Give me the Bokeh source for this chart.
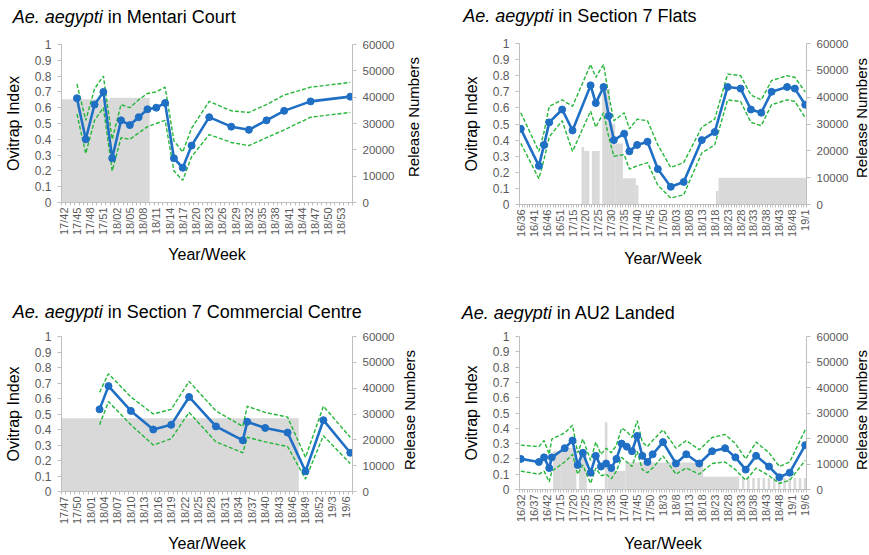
import math
from bokeh.plotting import figure
from bokeh.models import Range1d, LinearAxis, FixedTicker, NumeralTickFormatter, Div
from bokeh.layouts import column, row
from bokeh.embed import file_html
from bokeh.resources import INLINE

# ---------------- data ----------------
species = "Ae. aegypti"
right_title = "Release Numbers"

# Panel 1: Mentari Court
mc_place = "in Mentari Court"
mc_n_weeks = 66
mc_tick_step = 3
mc_tick_labels = ["17/42", "17/45", "17/48", "17/51", "18/02", "18/05", "18/08", "18/11",
                  "18/14", "18/17", "18/20", "18/23", "18/26", "18/29", "18/32", "18/35",
                  "18/38", "18/41", "18/44", "18/47", "18/50", "18/53"]
mc_week = [3, 5, 7, 9, 11, 13, 15, 17, 19, 21, 23, 25, 27, 29, 33, 38, 42, 46, 50, 56, 65]
mc_ovi = [0.66, 0.40, 0.62, 0.70, 0.28, 0.52, 0.49, 0.54, 0.59, 0.60, 0.63, 0.28, 0.22,
          0.36, 0.54, 0.48, 0.46, 0.52, 0.58, 0.64, 0.67]
mc_upper = [0.75, 0.52, 0.72, 0.80, 0.40, 0.62, 0.60, 0.65, 0.69, 0.70, 0.73, 0.39, 0.32,
            0.47, 0.64, 0.58, 0.57, 0.62, 0.68, 0.73, 0.76]
mc_lower = [0.56, 0.31, 0.52, 0.60, 0.20, 0.41, 0.40, 0.44, 0.48, 0.50, 0.52, 0.20, 0.14,
            0.29, 0.43, 0.38, 0.36, 0.41, 0.46, 0.54, 0.57]
mc_rel_first = [0, 11]
mc_rel_last = [10, 19]
mc_rel_num = [39200, 39800]

# Panel 2: Section 7 Flats
sf_place = "in Section 7 Flats"
sf_n_weeks = 111
sf_tick_step = 5
sf_tick_labels = ["16/36", "16/41", "16/46", "16/51", "17/15", "17/20", "17/25", "17/30",
                  "17/35", "17/40", "17/45", "17/50", "18/03", "18/08", "18/13", "18/18",
                  "18/23", "18/28", "18/33", "18/38", "18/43", "18/48", "19/1"]
sf_week = [0, 7, 9, 11, 16, 20, 27, 29, 32, 34, 36, 40, 42, 45, 49, 53, 58, 63, 70, 75,
           80, 85, 89, 93, 97, 103, 106, 110]
sf_ovi = [0.47, 0.24, 0.37, 0.51, 0.59, 0.46, 0.74, 0.63, 0.73, 0.55, 0.40, 0.44, 0.33,
          0.37, 0.39, 0.22, 0.11, 0.14, 0.40, 0.45, 0.73, 0.72, 0.59, 0.57, 0.70, 0.73,
          0.72, 0.62]
sf_upper = [0.57, 0.33, 0.45, 0.61, 0.65, 0.61, 0.87, 0.79, 0.87, 0.68, 0.52, 0.57, 0.47,
            0.53, 0.52, 0.37, 0.23, 0.26, 0.48, 0.53, 0.81, 0.80, 0.68, 0.65, 0.77, 0.80,
            0.79, 0.70]
sf_lower = [0.38, 0.16, 0.28, 0.42, 0.52, 0.33, 0.58, 0.48, 0.57, 0.42, 0.30, 0.31, 0.22,
            0.24, 0.26, 0.12, 0.04, 0.06, 0.32, 0.37, 0.65, 0.64, 0.51, 0.49, 0.62, 0.65,
            0.64, 0.54]
sf_rel_first = [24, 25, 28, 32, 35, 37, 40, 45, 76, 77]
sf_rel_last = [24, 26, 30, 34, 36, 39, 44, 45, 76, 110]
sf_rel_num = [21400, 19900, 19900, 43000, 30000, 22700, 9800, 7200, 5000, 10000]

# Panel 3: Section 7 Commercial Centre
cc_place = "in Section 7 Commercial Centre"
cc_n_weeks = 65
cc_tick_step = 3
cc_tick_labels = ["17/47", "17/50", "18/01", "18/04", "18/07", "18/10", "18/13", "18/16",
                  "18/19", "18/22", "18/25", "18/28", "18/31", "18/34", "18/37", "18/40",
                  "18/43", "18/46", "18/49", "18/52", "19/3", "19/6"]
cc_week = [8, 10, 15, 20, 24, 28, 34, 40, 41, 45, 50, 54, 58, 64]
cc_ovi = [0.53, 0.68, 0.52, 0.40, 0.43, 0.61, 0.42, 0.33, 0.45, 0.41, 0.38, 0.13, 0.46, 0.25]
cc_upper = [0.64, 0.76, 0.61, 0.50, 0.53, 0.71, 0.52, 0.42, 0.55, 0.51, 0.48, 0.22, 0.55, 0.35]
cc_lower = [0.43, 0.58, 0.43, 0.30, 0.34, 0.51, 0.32, 0.25, 0.35, 0.32, 0.29, 0.08, 0.36, 0.18]
cc_rel_first = [0]
cc_rel_last = [52]
cc_rel_num = [28400]

# Panel 4: AU2 Landed
au_place = "in AU2 Landed"
au_n_weeks = 111
au_tick_step = 5
au_tick_labels = ["16/32", "16/37", "16/42", "17/15", "17/20", "17/25", "17/30", "17/35",
                  "17/40", "17/45", "17/50", "18/3", "18/8", "18/13", "18/18", "18/23",
                  "18/28", "18/33", "18/38", "18/43", "18/48", "19/1", "19/6"]
au_week = [0, 7, 9, 11, 12, 17, 20, 22, 24, 27, 29, 31, 33, 35, 37, 39, 41, 43, 45, 47,
           49, 51, 55, 60, 64, 69, 74, 79, 83, 87, 91, 96, 100, 104, 110]
au_ovi = [0.20, 0.18, 0.21, 0.14, 0.21, 0.27, 0.32, 0.16, 0.24, 0.11, 0.22, 0.15, 0.17,
          0.14, 0.20, 0.30, 0.28, 0.25, 0.35, 0.22, 0.18, 0.23, 0.31, 0.17, 0.23, 0.17,
          0.25, 0.27, 0.21, 0.13, 0.22, 0.15, 0.08, 0.11, 0.29]
au_upper = [0.29, 0.28, 0.32, 0.23, 0.33, 0.37, 0.42, 0.24, 0.33, 0.19, 0.31, 0.23, 0.27,
            0.24, 0.29, 0.40, 0.38, 0.34, 0.45, 0.31, 0.28, 0.32, 0.39, 0.27, 0.32, 0.26,
            0.34, 0.36, 0.30, 0.20, 0.31, 0.24, 0.15, 0.18, 0.39]
au_lower = [0.12, 0.10, 0.12, 0.05, 0.12, 0.18, 0.23, 0.10, 0.16, 0.04, 0.14, 0.09, 0.10,
            0.07, 0.12, 0.21, 0.18, 0.15, 0.25, 0.13, 0.11, 0.14, 0.22, 0.10, 0.14, 0.10,
            0.17, 0.18, 0.13, 0.06, 0.14, 0.09, 0.04, 0.06, 0.19]
au_rel_first = [13, 16, 23, 33, 34, 41, 71, 86, 88, 90, 92, 94, 96, 98, 100, 102, 104,
                106, 108, 110]
au_rel_last = [15, 21, 25, 33, 40, 70, 84, 86, 88, 90, 92, 94, 96, 98, 100, 102, 104,
               106, 108, 110]
au_rel_num = [15000, 16300, 15000, 26400, 7400, 10600, 5000, 4500, 4500, 4500, 4500, 4500,
              4500, 4500, 4500, 4500, 4500, 4500, 4500, 4500]

ovi_ticks = [0, 0.1, 0.2, 0.3, 0.4, 0.5, 0.6, 0.7, 0.8, 0.9, 1]
ovi_tick_labels = ["0", "0.1", "0.2", "0.3", "0.4", "0.5", "0.6", "0.7", "0.8", "0.9", "1"]
rel_ticks = [0, 10000, 20000, 30000, 40000, 50000, 60000]

# ---------------- style ----------------
FONT = "Liberation Sans"
BLUE = "#1F6FC4"
GREEN = "#25B63A"
BARC = "#D9D9D9"
AXC = "#BFBFBF"
TXT = "#595959"


def title_div(place, width, height, x, y):
    html = (
        f'<svg xmlns="http://www.w3.org/2000/svg" width="{width}" height="{height}" '
        f'style="display:block;overflow:hidden">'
        f'<text x="{x}" y="{y}" font-family="{FONT}" font-size="18" fill="#000">'
        f'<tspan font-style="italic">{species}</tspan> {place}</text></svg>'
    )
    return Div(text=html, width=width, height=height, margin=(0, 0, 0, 0))


def side_div(width, height, cx, cy):
    html = (
        f'<svg xmlns="http://www.w3.org/2000/svg" width="{width}" height="{height}" '
        f'style="display:block;overflow:hidden">'
        f'<text transform="translate({cx},{cy}) rotate(-90)" text-anchor="middle" '
        f'dominant-baseline="central" font-family="{FONT}" font-size="15" fill="#000">'
        f'{right_title}</text></svg>'
    )
    return Div(text=html, width=width, height=height, margin=(0, 0, 0, 0))


def make_panel(n, step, labels, week, ovi, upper, lower, rfirst, rlast, rnum, g):
    width, height, bl, bt, fw, fh, xlab_sd = g
    p = figure(width=width, height=height, output_backend="svg", toolbar_location=None,
               title=None, x_range=Range1d(-0.5, n - 0.5), y_range=Range1d(0, 1),
               min_border_left=bl, min_border_top=bt,
               min_border_right=width - bl - fw, min_border_bottom=height - bt - fh)
    p.extra_y_ranges = {"rel": Range1d(0, 60000)}
    p.outline_line_color = None
    p.xgrid.visible = False
    p.ygrid.visible = False

    # release bars (right axis)
    p.quad(left=[f - 0.5 for f in rfirst], right=[l + 0.5 for l in rlast], bottom=0, top=rnum,
           y_range_name="rel", fill_color=BARC, line_color=None)
    # confidence limits and ovitrap index
    p.line(week, upper, line_color=GREEN, line_width=1.4, line_dash="4 2")
    p.line(week, lower, line_color=GREEN, line_width=1.4, line_dash="4 2")
    p.line(week, ovi, line_color=BLUE, line_width=2.6)
    p.scatter(week, ovi, size=7, fill_color=BLUE, line_color=BLUE)

    # x axis
    xa = p.below[0]
    tick_pos = [i * step for i in range(len(labels))]
    xa.ticker = FixedTicker(ticks=tick_pos, minor_ticks=[i - 0.5 for i in range(n + 1)])
    xa.major_label_overrides = {t: lab for t, lab in zip(tick_pos, labels)}
    xa.major_label_orientation = math.pi / 2
    xa.major_label_text_font = FONT
    xa.major_label_text_font_size = "11px"
    xa.major_label_text_color = TXT
    xa.major_label_standoff = 2
    xa.axis_line_color = AXC
    xa.major_tick_line_color = None
    xa.major_tick_out = 3
    xa.major_tick_in = 0
    xa.minor_tick_line_color = AXC
    xa.minor_tick_out = 3
    xa.minor_tick_in = 0
    xa.axis_label = "Year/Week"
    xa.axis_label_standoff = xlab_sd
    xa.axis_label_text_font_size = "16px"

    # left axis
    ya = p.left[0]
    ya.ticker = FixedTicker(ticks=ovi_ticks)
    ya.major_label_overrides = {t: lab for t, lab in zip(ovi_ticks, ovi_tick_labels)}
    ya.major_label_text_font_size = "12px"
    ya.axis_label = "Ovitrap Index"
    ya.axis_label_standoff = 10
    ya.axis_label_text_font_size = "16px"
    # right axis
    ra = LinearAxis(y_range_name="rel", ticker=FixedTicker(ticks=rel_ticks),
                    formatter=NumeralTickFormatter(format="0"))
    ra.major_label_text_font_size = "11.5px"
    p.add_layout(ra, "right")
    for ax in (xa, ya):
        ax.axis_label_text_font = FONT
        ax.axis_label_text_font_style = "normal"
        ax.axis_label_text_color = "black"
    for ax in (ya, ra):
        ax.axis_line_color = AXC
        ax.major_tick_line_color = AXC
        ax.major_tick_out = 4
        ax.major_tick_in = 0
        ax.minor_tick_line_color = None
        ax.major_label_standoff = 6
        ax.major_label_text_font = FONT
        ax.major_label_text_color = TXT
    return p


d1 = title_div(mc_place, 459, 30, 12.7, 23)
p1 = make_panel(mc_n_weeks, mc_tick_step, mc_tick_labels, mc_week, mc_ovi, mc_upper,
                mc_lower, mc_rel_first, mc_rel_last, mc_rel_num,
                (397, 248, 61, 14, 291, 158, 8))
r1 = side_div(62, 248, 16, 87)

d2 = title_div(sf_place, 410, 30, 4.3, 22)
p2 = make_panel(sf_n_weeks, sf_tick_step, sf_tick_labels, sf_week, sf_ovi, sf_upper,
                sf_lower, sf_rel_first, sf_rel_last, sf_rel_num,
                (392, 248, 54, 13, 293, 161, 10))
r2 = side_div(18, 248, 10, 88)

d3 = title_div(cc_place, 459, 44, 12.7, 39.7)
p3 = make_panel(cc_n_weeks, cc_tick_step, cc_tick_labels, cc_week, cc_ovi, cc_upper,
                cc_lower, cc_rel_first, cc_rel_last, cc_rel_num,
                (397, 233, 61, 14, 291, 158, 8))
r3 = side_div(62, 233, 12, 88)

d4 = title_div(au_place, 410, 44, 2.7, 41)
p4 = make_panel(au_n_weeks, au_tick_step, au_tick_labels, au_week, au_ovi, au_upper,
                au_lower, au_rel_first, au_rel_last, au_rel_num,
                (392, 233, 54, 14, 293, 157, 10))
r4 = side_div(18, 233, 10, 88)

left = column(d1, row(p1, r1), d3, row(p3, r3))
right = column(d2, row(p2, r2), d4, row(p4, r4))
layout = row(left, right)
open("out.html", "w").write(file_html(layout, INLINE))
